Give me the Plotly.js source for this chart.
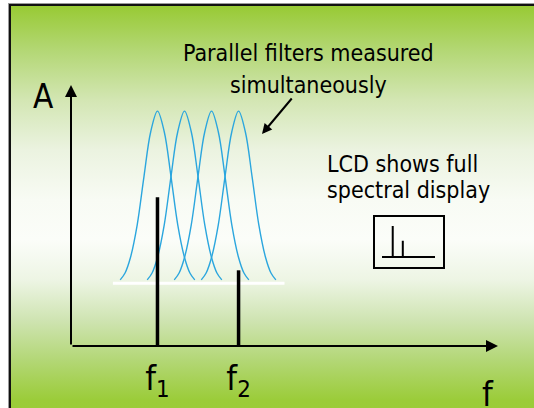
<!DOCTYPE html>
<html><head><meta charset="utf-8">
<script src="https://cdn.plot.ly/plotly-3.0.1.min.js"></script>
<style>
html,body{margin:0;padding:0;background:#fff;overflow:hidden;}
#wrap{position:relative;width:534px;height:408px;overflow:hidden;background:#fff;}
#frame{position:absolute;left:9px;top:4px;width:600px;height:500px;border-left:2px solid #111;border-top:2px solid #111;box-shadow:-1px -1px 0 #9a9a9a;
background:linear-gradient(to bottom,#98ca34 0px,#b3d774 44px,#d3e6b3 94px,#ebf3e0 144px,#f8fbf4 194px,#fbfdf9 234px,#edf5e4 274px,#cfe4b2 314px,#b3d776 354px,#9bcc39 394px,#98ca34 500px);}
#chart{position:absolute;left:0;top:0;width:534px;height:408px;}
</style></head>
<body><div id="wrap"><div id="frame"></div><div id="chart"></div></div>
<script>
// ---- data ----
const filterCenters = [3.2, 4.2, 5.2, 6.2];          // centre frequency of each parallel filter
const filterFloor = 2.4;                              // amplitude at filter skirts
const filterPeak = 9.0;                               // amplitude at filter peak
const shapeOffset = [-1.38, -1.2, -1.0, -0.75, -0.5, -0.25, 0, 0.25, 0.5, 0.75, 1.0, 1.2, 1.38];
const shapeLevel  = [0.02, 0.06, 0.15, 0.34, 0.62, 0.88, 1.0, 0.88, 0.62, 0.34, 0.15, 0.06, 0.02];
const floorSpan = [1.55, 7.9];                        // extent of the white floor line
const signalFreqs = [3.2, 6.2];
const signalAmps  = [5.7, 2.9];
const signalLabels = ['f<sub>1</sub>', 'f<sub>2</sub>'];
const freqMax = 15.8;
const ampMax = 10;

const FONT = '"Liberation Sans Narrow","Arial Narrow","DejaVu Sans Condensed",sans-serif';
const W = 534, H = 408;
const px = v => v / W, py = v => 1 - v / H;

const traces = [];
filterCenters.forEach(c => {
  traces.push({
    type: 'scatter', mode: 'lines', xaxis: 'x', yaxis: 'y',
    x: shapeOffset.map(o => c + o),
    y: shapeLevel.map(l => filterFloor + l * (filterPeak - filterFloor)),
    line: {color: '#2BA6DE', width: 1.4, shape: 'spline', smoothing: 1},
    hoverinfo: 'skip'
  });
});
traces.push({
  type: 'scatter', mode: 'lines', x: floorSpan, y: [filterFloor, filterFloor],
  line: {color: '#ffffff', width: 3}, hoverinfo: 'skip'
});
const segX = [], segY = [];
signalFreqs.forEach((f, i) => { segX.push(f, f, null); segY.push(0, signalAmps[i], null); });
traces.push({
  type: 'scatter', mode: 'lines', x: segX, y: segY,
  line: {color: '#000', width: 3.5}, hoverinfo: 'skip'
});
// LCD mini display
traces.push({
  type: 'scatter', mode: 'lines', xaxis: 'x2', yaxis: 'y2', x: segX, y: segY,
  line: {color: '#000', width: 2}, hoverinfo: 'skip'
});

const txt = (text, x, y, size, anchor) => ({
  text, xref: 'paper', yref: 'paper', x: px(x), y: py(y), showarrow: false,
  xanchor: anchor || 'center', yanchor: 'middle', font: {family: FONT, size, color: '#000'}
});

const layout = {
  width: W, height: H, margin: {l: 0, r: 0, t: 0, b: 0},
  paper_bgcolor: 'rgba(0,0,0,0)', plot_bgcolor: 'rgba(0,0,0,0)', showlegend: false,
  xaxis: {domain: [px(71), px(498)], range: [0, freqMax], showgrid: false, zeroline: false, showline: false,
          tickvals: signalFreqs, ticktext: signalLabels, ticks: '', ticklabelstandoff: 9,
          tickfont: {family: FONT, size: 34, color: '#000'}, fixedrange: true},
  yaxis: {domain: [py(346), py(85)], range: [0, ampMax], showgrid: false, zeroline: false,
          showline: false, showticklabels: false, ticks: '', fixedrange: true},
  xaxis2: {domain: [px(382), px(435)], range: [0, freqMax], anchor: 'y2', showline: true, linecolor: '#000',
           linewidth: 2, showgrid: false, zeroline: false, showticklabels: false, ticks: '', fixedrange: true},
  yaxis2: {domain: [py(256), py(203.4)], range: [0, ampMax], anchor: 'x2', showgrid: false, zeroline: false,
           showline: false, showticklabels: false, ticks: '', fixedrange: true},
  shapes: [{type: 'rect', xref: 'paper', yref: 'paper', x0: px(374), x1: px(444), y0: py(268), y1: py(216),
            line: {color: '#000', width: 2}, fillcolor: 'rgba(0,0,0,0)'}],
  annotations: [
    txt('Parallel filters measured', 308, 53, 23),
    txt('simultaneously', 308, 85, 23),
    {text: '', xref: 'paper', yref: 'paper', x: px(262), y: py(134), ax: 31, ay: -37,
     showarrow: true, arrowhead: 2, arrowsize: 1, arrowwidth: 2, arrowcolor: '#000', standoff: 0},
    txt('A', 44, 96, 33),
    txt('f', 488, 394, 34),
    txt('LCD shows full', 325, 164, 23, 'left'),
    txt('spectral display', 325, 190, 23, 'left'),
    {text: '', xref: 'x', yref: 'y', x: freqMax, y: 0, axref: 'x', ayref: 'y', ax: 0, ay: 0,
     showarrow: true, arrowhead: 2, arrowsize: 1.2, arrowwidth: 2, arrowcolor: '#000', standoff: 0},
    {text: '', xref: 'x', yref: 'y', x: 0, y: ampMax, axref: 'x', ayref: 'y', ax: 0, ay: 0,
     showarrow: true, arrowhead: 2, arrowsize: 1.2, arrowwidth: 2, arrowcolor: '#000', standoff: 0}
  ]
};
Plotly.newPlot('chart', traces, layout, {displayModeBar: false, staticPlot: true});
</script></body></html>
